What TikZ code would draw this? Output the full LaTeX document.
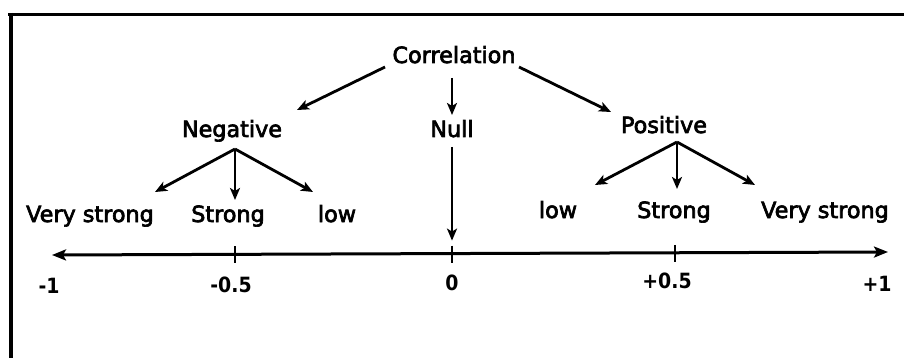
\documentclass[tikz,border=0pt]{standalone}
\usepackage{fontspec}
\setmainfont{DejaVu Sans}
\newfontfamily\lblfont{DejaVu Sans}[FakeBold=3]
\newfontfamily\numfont{DejaVu Sans Bold}[FakeStretch=0.9]
\usetikzlibrary{arrows.meta,calc}
\begin{document}
\begin{tikzpicture}[x=1pt,y=-1pt,
  lbl/.style={anchor=base,inner sep=0pt,font=\lblfont\fontsize{22.3}{26}\selectfont},
  num/.style={anchor=base,inner sep=0pt,font=\numfont\fontsize{21}{25}\selectfont},
  arr/.style={line width=2.8pt,-{Stealth[length=12pt,width=10pt,inset=3pt]}},
  axis/.style={line width=3pt,{Stealth[length=14pt,width=11pt,inset=3pt]}-{Stealth[length=14pt,width=11pt,inset=3pt]}},
  tick/.style={line width=2.2pt},
  frame/.style={line width=3.4pt}]
\useasboundingbox (0,0) rectangle (904,358);
% frame (top and left edges only)
\draw[frame] (8,14.5) -- (904,14.5);
\draw[frame] (11,13) -- (11,358);
% nodes
\node[lbl] (corr) at (454,63) {Correlation};
\node[lbl] (neg) at (232,137) {Negative};
\node[lbl] (null) at (452,137) {Null};
\node[lbl] (pos) at (664,133) {Positive};
\node[lbl] (nvs) at (90,222) {Very strong};
\node[lbl] (ns) at (228,222) {Strong};
\node[lbl] (nl) at (337,222) {low};
\node[lbl] (pl) at (558,218) {low};
\node[lbl] (ps) at (674,218) {Strong};
\node[lbl] (pvs) at (825,218) {Very strong};
% axis
\coordinate (axL) at (52,255);
\coordinate (axR) at (888,252);
\coordinate (tn) at (235,254.4);
\coordinate (t0) at (452,253.6);
\coordinate (tp) at (675,252.8);
\draw[axis] (axL) -- (axR);
\foreach \t in {tn,t0,tp} \draw[tick] ($(\t)+(0,-8)$) -- ($(\t)+(0,9)$);
\node[num] (m1) at (49,293) {-1};
\node[num] (m05) at (231,292) {-0.5};
\node[num] (z) at (452,290) {0};
\node[num] (p05) at (667,288) {+0.5};
\node[num] (p1) at (877,291) {+1};
% arrows from Correlation
\draw[arr] ($(corr.base)+(-69,4)$) -- ($(neg.base)+(65,-27)$);
\draw[arr] ($(corr.base)+(-2,15)$) -- ($(null.base)+(0,-22)$);
\draw[arr] ($(corr.base)+(65,4)$) -- ($(pos.base)+(-53,-21)$);
% Negative children
\draw[arr] ($(neg.base)+(3,12)$) -- ($(nvs.base)+(65,-30)$);
\draw[arr] ($(neg.base)+(3,12)$) -- ($(ns.base)+(7,-22)$);
\draw[arr] ($(neg.base)+(3,12)$) -- ($(nl.base)+(-24,-30)$);
% Positive children
\draw[arr] ($(pos.base)+(13,9)$) -- ($(pl.base)+(37,-33)$);
\draw[arr] ($(pos.base)+(13,9)$) -- ($(ps.base)+(3,-29)$);
\draw[arr] ($(pos.base)+(13,9)$) -- ($(pvs.base)+(-70,-33)$);
% Null to axis
\draw[arr] ($(null.base)+(0,10)$) -- ($(t0)+(0,-13)$);
\end{tikzpicture}
\end{document}
